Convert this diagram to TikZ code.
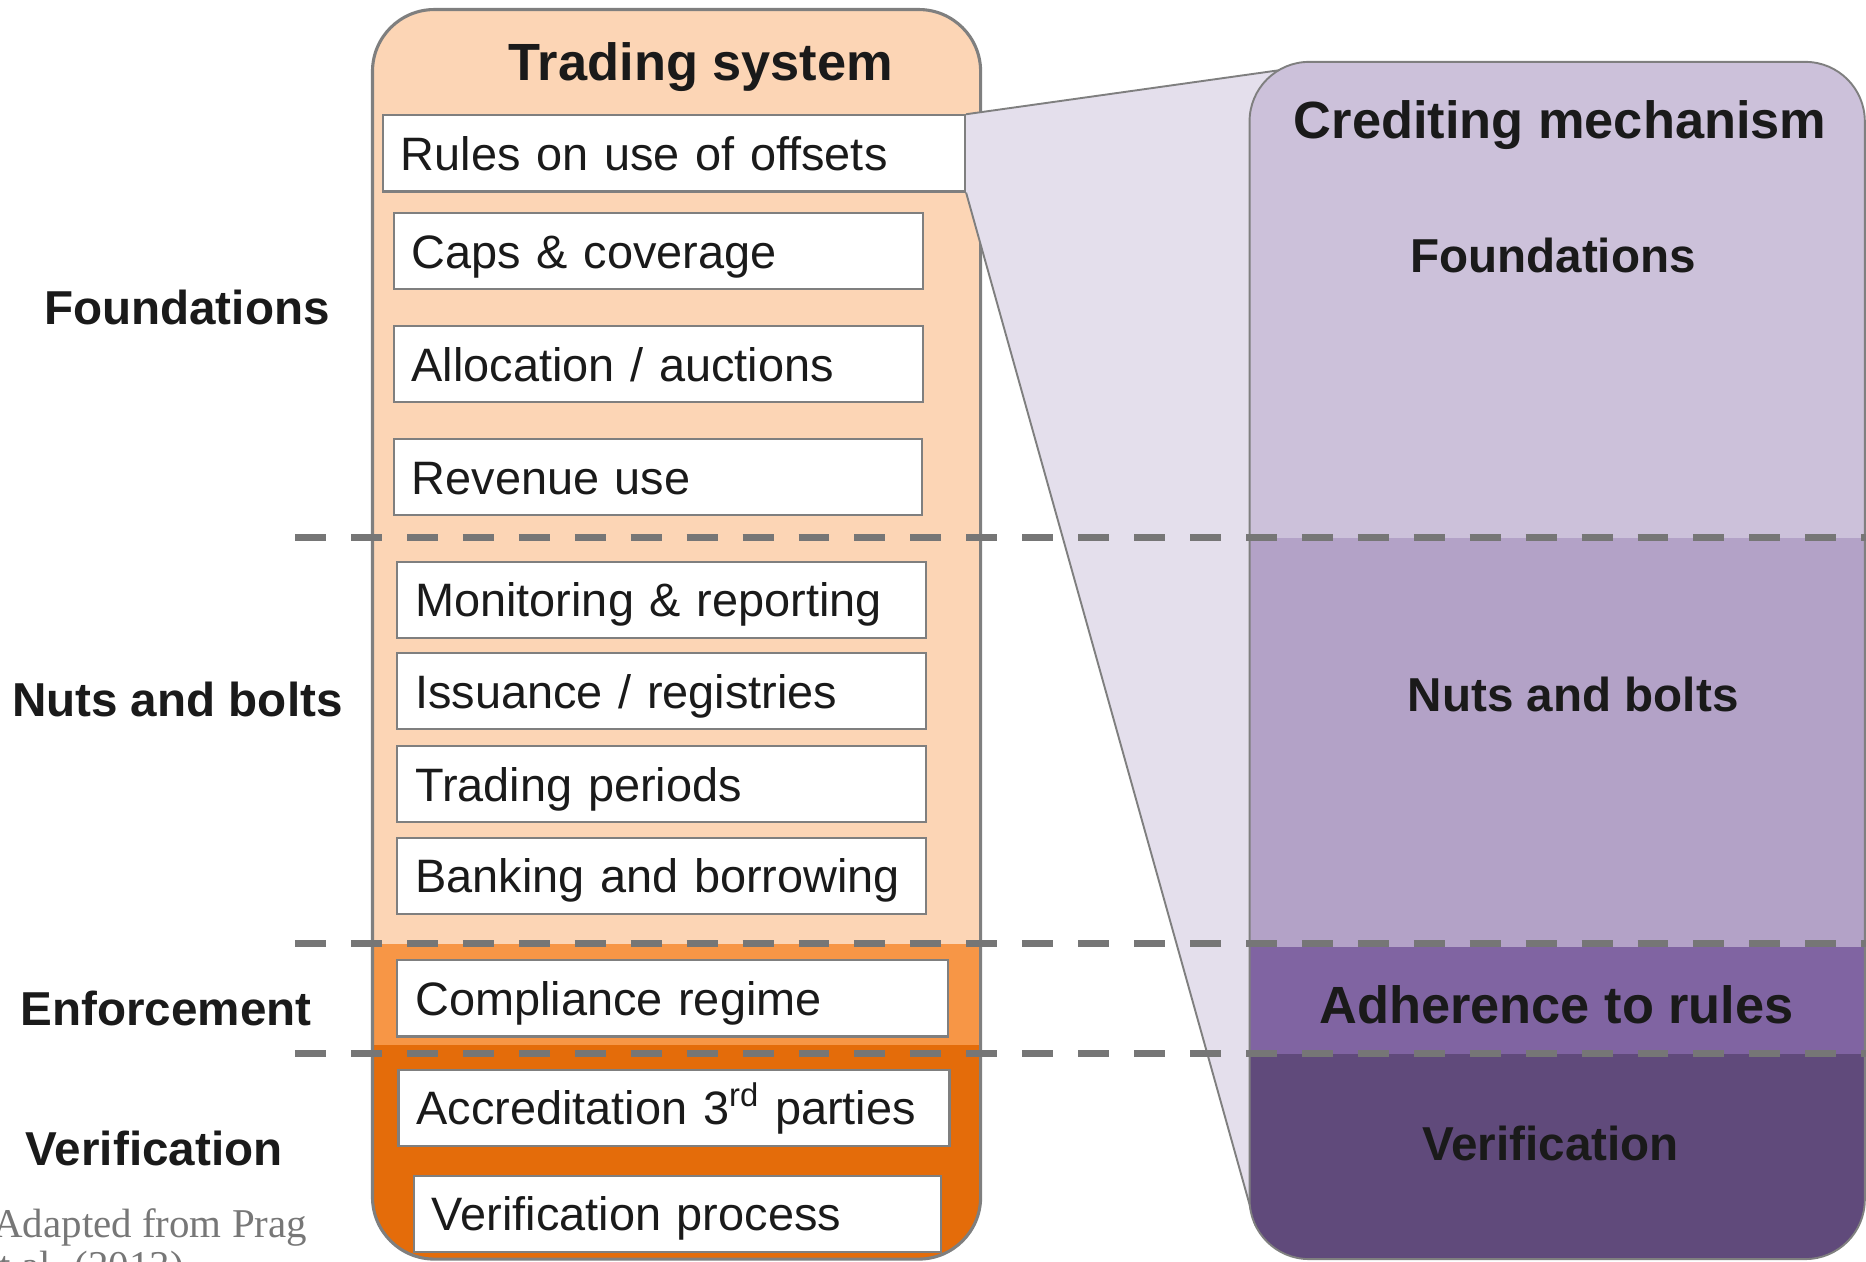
\documentclass[tikz,border=0pt]{standalone}
\usepackage{fontspec}
\setmainfont{Liberation Sans}
\newfontfamily\srcfont{Liberation Serif}
\definecolor{peach}{HTML}{FCD5B5}
\definecolor{orangeM}{HTML}{F79646}
\definecolor{orangeD}{HTML}{E46C0A}
\definecolor{funnel}{HTML}{E4DFEC}
\definecolor{cmA}{HTML}{CCC1DA}
\definecolor{cmB}{HTML}{B3A2C7}
\definecolor{cmC}{HTML}{8064A2}
\definecolor{cmD}{HTML}{604A7B}
\definecolor{boxgray}{HTML}{7F7F7F}
\definecolor{dashgray}{HTML}{767676}
\definecolor{txt}{HTML}{1A1A1A}
\definecolor{srcgray}{HTML}{777777}
\pgfdeclarelayer{back}
\pgfdeclarelayer{mid}
\pgfsetlayers{back,mid,main}
\tikzset{
  wbox/.style={draw=boxgray, fill=white, line width=0.9pt, anchor=north west,
    inner xsep=7.5pt, inner ysep=0pt, minimum height=32pt,
    text height=14.3pt, text depth=0pt, align=left, text=txt,
    font=\fontsize{19.7}{24}\selectfont},
  lbl/.style={font=\bfseries\fontsize{20}{24}\selectfont, anchor=base, text=txt, inner sep=0pt},
  ttl/.style={font=\bfseries\fontsize{22}{26}\selectfont, anchor=base, text=txt, inner sep=0pt},
  dashline/.style={draw=dashgray, line width=3pt, dash pattern=on 13pt off 10.5pt},
  funline/.style={draw=boxgray, line width=0.8pt},
  src/.style={font=\srcfont\fontsize{17.2}{20}\selectfont, text=srcgray, inner sep=0pt, anchor=base west}
}
\begin{document}
\begin{tikzpicture}[x=0.5pt,y=-0.5pt]
\useasboundingbox (0,0) rectangle (1568,1060);
\clip (0,0) rectangle (1568,1060);

% Trading system box
\begin{pgfonlayer}{back}
\begin{scope}
  \clip[rounded corners=26pt] (313,8) rectangle (824,1058);
  \fill[peach] (313,8) rectangle (824,1058);
  \fill[orangeM] (313,793) rectangle (824,878);
  \fill[orangeD] (313,878) rectangle (824,1058);
\end{scope}
\draw[draw=boxgray, line width=1.3pt, rounded corners=26pt] (313,8) rectangle (824,1058);
\end{pgfonlayer}

\node[ttl] (ts) at (589,68) {Trading system};

% White boxes
\node[wbox, text width=229.5pt] (r1) at (321,96) {\mbox{Rules on use of offsets}};
\node[wbox, text width=207.5pt] (r2) at (330,178) {\mbox{Caps \& coverage}};
\node[wbox, text width=207.5pt] (r3) at (330,273) {\mbox{Allocation / auctions}};
\node[wbox, text width=207pt] (r4) at (330,368) {\mbox{Revenue use}};
\node[wbox, text width=207pt] (r5) at (333,471) {\mbox{Monitoring \& reporting}};
\node[wbox, text width=207pt] (r6) at (333,548) {\mbox{Issuance / registries}};
\node[wbox, text width=207pt] (r7) at (333,626) {\mbox{Trading periods}};
\node[wbox, text width=207pt] (r8) at (333,703) {\mbox{Banking and borrowing}};
\node[wbox, text width=216.5pt] (r9) at (333,806) {\mbox{Compliance regime}};
\node[wbox, text width=216.5pt] (r10) at (334,898) {\mbox{Accreditation 3\textsuperscript{rd} parties}};
\node[wbox, text width=206.5pt] (r11) at (347,987) {\mbox{Verification process}};

% Funnel
\coordinate (ftop) at (1075,59);
\coordinate (fbot) at (1055,1030);
\begin{pgfonlayer}{mid}
\fill[funnel] (r1.north east) -- (ftop) -- (1100,59) -- (1100,1030) -- (fbot) -- (r1.south east) -- cycle;
\draw[funline] (r1.north east) -- (ftop);
\draw[funline] (r1.south east) -- (fbot);
\end{pgfonlayer}

% Crediting mechanism box
\begin{scope}
  \clip[rounded corners=25pt] (1050,52) rectangle (1567,1058);
  \fill[cmA] (1050,52) rectangle (1567,452);
  \fill[cmB] (1050,452) rectangle (1567,796);
  \fill[cmC] (1050,796) rectangle (1567,886);
  \fill[cmD] (1050,886) rectangle (1567,1058);
\end{scope}
\draw[draw=boxgray, line width=0.8pt, rounded corners=25pt] (1050,52) rectangle (1567,1058);

\node[ttl] (cm) at (1311,116) {Crediting mechanism};
\node[lbl] (cf) at (1305,229) {Foundations};
\node[lbl] (cn) at (1322,598) {Nuts and bolts};
\node[ttl] (ca) at (1308,860) {Adherence to rules};
\node[lbl] (cv) at (1303,975) {Verification};

% Dashed separators
\draw[dashline] (248,452) -- (1568,452);
\draw[dashline] (248,793) -- (1568,793);
\draw[dashline] (248,885) -- (1568,885);

% Left labels
\node[lbl] (lf) at (157,273) {Foundations};
\node[lbl] (ln) at (149,602) {Nuts and bolts};
\node[lbl] (le) at (139.5,862) {Enforcement};
\node[lbl] (lv) at (129.5,979) {Verification};

% Source
\node[src] (s1) at (-6,1040) {Adapted from Prag};
\node[src] (s2) at (-16,1075) {et al. (2013)};
\end{tikzpicture}
\end{document}
